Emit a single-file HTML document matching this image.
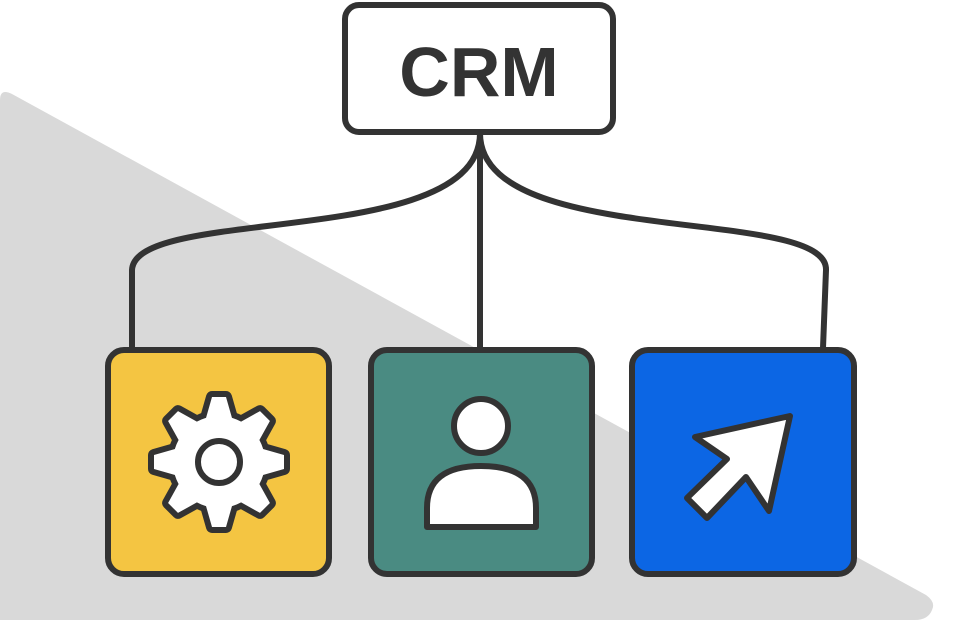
<!DOCTYPE html>
<html><head><meta charset="utf-8"><style>
html,body{margin:0;padding:0;background:#fff;}
svg{display:block;}
</style></head><body>
<svg width="963" height="622" viewBox="0 0 963 622" xmlns="http://www.w3.org/2000/svg">
<path d="M0,100 Q0,88 12,94 L926,595 Q936,602 932,610 Q928,620 915,620 L0,620 Z" fill="#d9d9d9"/>
<g fill="none" stroke="#333" stroke-width="6" stroke-linecap="round">
<path d="M480,133 L480,350"/>
<path d="M480,133 C480,250 135,205 132,270 L132,348"/>
<path d="M480,133 C480,250 828,205 826,270 L823,348"/>
</g>
<rect x="345" y="5" width="268" height="127" rx="14" fill="#fff" stroke="#333" stroke-width="6"/>
<text x="479" y="96" text-anchor="middle" font-family="Liberation Sans, sans-serif" font-weight="bold" font-size="70" fill="#333">CRM</text>
<rect x="108" y="350" width="221" height="224" rx="16" fill="#f4c542" stroke="#333" stroke-width="6"/>
<rect x="371" y="350" width="221" height="224" rx="16" fill="#4a8b82" stroke="#333" stroke-width="6"/>
<rect x="632" y="350" width="222" height="224" rx="16" fill="#0c66e4" stroke="#333" stroke-width="6"/>
<g transform="translate(219,462)" stroke-linejoin="round">
<g stroke="#333" stroke-width="12" fill="#333">
<circle r="46"/>
<g id="t"><polygon points="-7,-65 7,-65 13,-44 -13,-44"/></g>
<use href="#t" transform="rotate(45)"/><use href="#t" transform="rotate(90)"/><use href="#t" transform="rotate(135)"/><use href="#t" transform="rotate(180)"/><use href="#t" transform="rotate(225)"/><use href="#t" transform="rotate(270)"/><use href="#t" transform="rotate(315)"/>
</g>
<g fill="#fff">
<circle r="46"/>
<g id="w"><polygon points="-7,-65 7,-65 13,-44 -13,-44"/></g>
<use href="#w" transform="rotate(45)"/><use href="#w" transform="rotate(90)"/><use href="#w" transform="rotate(135)"/><use href="#w" transform="rotate(180)"/><use href="#w" transform="rotate(225)"/><use href="#w" transform="rotate(270)"/><use href="#w" transform="rotate(315)"/>
</g>
<circle r="21" fill="#fff" stroke="#333" stroke-width="6"/>
</g>
<circle cx="481" cy="426" r="27" fill="#fff" stroke="#333" stroke-width="6"/>
<path d="M427,527 L427,508 Q427,466 481,466 Q536,466 536,508 L536,527 Z" fill="#fff" stroke="#333" stroke-width="6" stroke-linejoin="round"/>
<polygon points="790,416 695,437 727,459 687,498 707,518 746,477 769,511" fill="#fff" stroke="#333" stroke-width="6" stroke-linejoin="round"/>
</svg>
</body></html>
